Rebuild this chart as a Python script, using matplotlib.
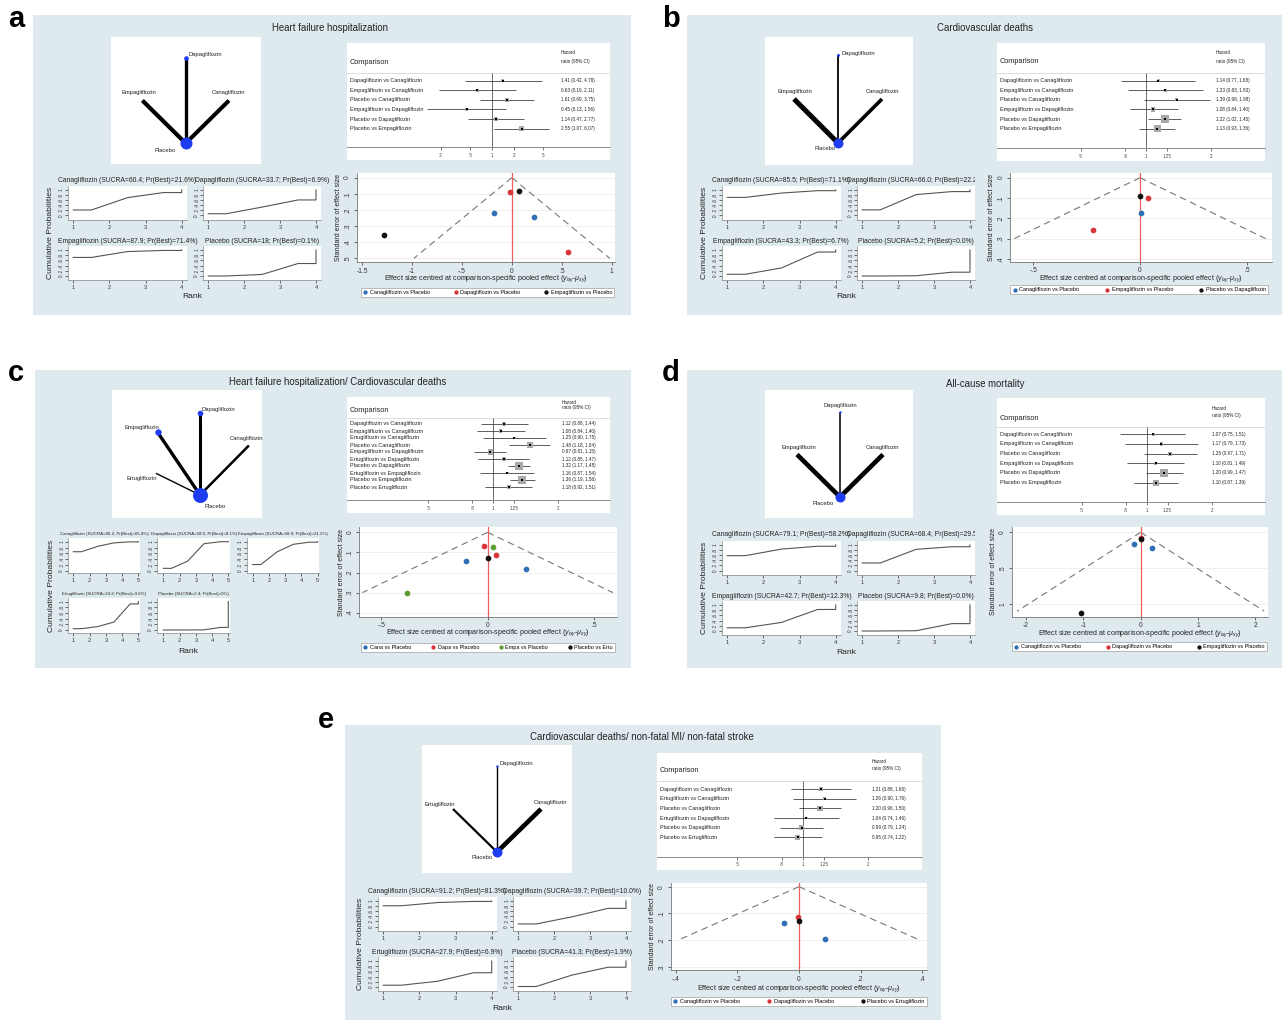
import numpy as np
import matplotlib
matplotlib.use("Agg")
import matplotlib.pyplot as plt
from matplotlib.patches import Rectangle
from matplotlib.transforms import Bbox, TransformedBbox, blended_transform_factory

W, H = 1283, 1022
plt.rcParams['font.family'] = ['Liberation Sans', 'DejaVu Sans']
plt.rcParams['mathtext.fontset'] = 'custom'
plt.rcParams['mathtext.rm'] = 'Liberation Sans'
plt.rcParams['mathtext.it'] = 'Liberation Sans:italic'
plt.rcParams['axes.linewidth'] = 0.6

BG = '#dfeaef'
BLUE, RED, GREEN, BLACK = '#2f6fb6', '#d9363c', '#5f9d2e', '#111111'
NODE = '#1e3cf0'
TXT = '#222222'

# ---------------- a: Heart failure hospitalization ----------------
a_title = "Heart failure hospitalization"
a_comparisons = ["Dapagliflozin vs Canagliflozin", "Empagliflozin vs Canagliflozin",
                 "Placebo vs Canagliflozin", "Empagliflozin vs Dapagliflozin",
                 "Placebo vs Dapagliflozin", "Placebo vs Empagliflozin"]
a_hr = [1.41, 0.63, 1.61, 0.45, 1.14, 2.55]
a_lo = [0.42, 0.19, 0.69, 0.13, 0.47, 1.07]
a_hi = [4.78, 2.11, 3.75, 1.56, 2.77, 6.07]
a_weight = [1.0, 1.0, 1.5, 1.0, 1.4, 1.6]
a_treatments = ["Canagliflozin", "Dapagliflozin", "Empagliflozin", "Placebo"]
a_sucra = ["60.4", "33.7", "87.9", "18"]
a_pbest = ["21.6", "6.9", "71.4", "0.1"]
a_cumprob = [[0.216, 0.70, 0.90, 1.0], [0.069, 0.33, 0.61, 1.0],
             [0.714, 0.94, 0.983, 1.0], [0.001, 0.06, 0.48, 1.0]]
a_funnel_groups = ["Canagliflozin vs Placebo", "Dapagliflozin vs Placebo", "Empagliflozin vs Placebo"]
a_funnel_effect = [[-0.18, 0.22], [-0.02, 0.565], [0.067, -1.28]]
a_funnel_se = [[0.221, 0.246], [0.087, 0.46], [0.081, 0.356]]
a_edges = [("Placebo", "Dapagliflozin"), ("Placebo", "Empagliflozin"), ("Placebo", "Canagliflozin")]

# ---------------- b: Cardiovascular deaths ----------------
b_title = "Cardiovascular deaths"
b_comparisons = a_comparisons
b_hr = [1.14, 1.23, 1.39, 1.08, 1.22, 1.13]
b_lo = [0.77, 0.83, 0.98, 0.84, 1.02, 0.93]
b_hi = [1.68, 1.83, 1.98, 1.40, 1.45, 1.36]
b_weight = [1.0, 1.0, 1.0, 1.5, 2.8, 2.5]
b_treatments = ["Canagliflozin", "Dapagliflozin", "Empagliflozin", "Placebo"]
b_sucra = ["85.5", "66.0", "43.3", "5.2"]
b_pbest = ["71.1", "22.2", "6.7", "0.0"]
b_cumprob = [[0.711, 0.88, 0.974, 1.0], [0.222, 0.82, 0.938, 1.0],
             [0.067, 0.31, 0.922, 1.0], [0.0, 0.01, 0.146, 1.0]]
b_funnel_groups = ["Canagliflozin vs Placebo", "Empagliflozin vs Placebo", "Placebo vs Dapagliflozin"]
b_funnel_effect = [[0.003], [0.036, -0.222], [0.0]]
b_funnel_se = [[0.175], [0.101, 0.258], [0.09]]
b_edges = a_edges

# ---------------- c: Heart failure hospitalization/ Cardiovascular deaths ----------------
c_title = "Heart failure hospitalization/ Cardiovascular deaths"
c_comparisons = ["Dapagliflozin vs Canagliflozin", "Empagliflozin vs Canagliflozin",
                 "Ertugliflozin vs Canagliflozin", "Placebo vs Canagliflozin",
                 "Empagliflozin vs Dapagliflozin", "Ertugliflozin vs Dapagliflozin",
                 "Placebo vs Dapagliflozin", "Ertugliflozin vs Empagliflozin",
                 "Placebo vs Empagliflozin", "Placebo vs Ertugliflozin"]
c_hr = [1.12, 1.08, 1.25, 1.48, 0.97, 1.12, 1.32, 1.16, 1.36, 1.18]
c_lo = [0.88, 0.84, 0.90, 1.18, 0.81, 0.85, 1.17, 0.87, 1.19, 0.92]
c_hi = [1.44, 1.40, 1.75, 1.84, 1.15, 1.47, 1.48, 1.54, 1.56, 1.51]
c_weight = [1.3, 1.3, 1.0, 2.0, 1.9, 1.3, 2.8, 1.0, 2.6, 1.3]
c_treatments = ["Canagliflozin", "Dapagliflozin", "Empagliflozin", "Ertugliflozin", "Placebo"]
c_sucra = ["86.2", "58.5", "68.9", "34.2", "2.4"]
c_pbest = ["65.4", "8.1", "21.2", "4.6", "0"]
c_cumprob = [[0.654, 0.84, 0.96, 0.994, 1.0], [0.081, 0.33, 0.93, 0.999, 1.0],
             [0.212, 0.65, 0.91, 0.984, 1.0], [0.046, 0.12, 0.28, 0.922, 1.0],
             [0.0, 0.0, 0.005, 0.091, 1.0]]
c_funnel_groups = ["Cana vs Placebo", "Dapa vs Placebo", "Empa vs Placebo", "Placebo vs Ertu"]
c_funnel_effect = [[-0.103, 0.178], [-0.016, 0.039], [0.023, -0.38], [0.0]]
c_funnel_se = [[0.141, 0.184], [0.067, 0.114], [0.072, 0.30], [0.128]]
c_edges = [("Placebo", "Dapagliflozin"), ("Placebo", "Empagliflozin"),
           ("Placebo", "Canagliflozin"), ("Placebo", "Ertugliflozin")]

# ---------------- d: All-cause mortality ----------------
d_title = "All-cause mortality"
d_comparisons = a_comparisons
d_hr = [1.07, 1.17, 1.28, 1.10, 1.20, 1.10]
d_lo = [0.75, 0.79, 0.97, 0.81, 0.99, 0.87]
d_hi = [1.51, 1.73, 1.71, 1.49, 1.47, 1.39]
d_weight = [1.0, 1.3, 1.3, 1.0, 2.5, 2.1]
d_treatments = ["Canagliflozin", "Dapagliflozin", "Empagliflozin", "Placebo"]
d_sucra = ["79.1", "68.4", "42.7", "9.8"]
d_pbest = ["58.2", "29.5", "12.3", "0.0"]
d_cumprob = [[0.582, 0.84, 0.951, 1.0], [0.295, 0.83, 0.932, 1.0],
             [0.123, 0.33, 0.828, 1.0], [0.0, 0.01, 0.284, 1.0]]
d_funnel_groups = ["Canagliflozin vs Placebo", "Dapagliflozin vs Placebo", "Empagliflozin vs Placebo"]
d_funnel_effect = [[-0.11, 0.19], [0.0], [0.0, -1.04]]
d_funnel_se = [[0.163, 0.214], [0.085], [0.095, 1.12]]
d_edges = a_edges

# ---------------- e: Cardiovascular deaths/ non-fatal MI/ non-fatal stroke ----------------
e_title = "Cardiovascular deaths/ non-fatal MI/ non-fatal stroke"
e_comparisons = ["Dapagliflozin vs Canagliflozin", "Ertugliflozin vs Canagliflozin",
                 "Placebo vs Canagliflozin", "Ertugliflozin vs Dapagliflozin",
                 "Placebo vs Dapagliflozin", "Placebo vs Ertugliflozin"]
e_hr = [1.21, 1.26, 1.20, 1.04, 0.99, 0.95]
e_lo = [0.88, 0.90, 0.96, 0.74, 0.79, 0.74]
e_hi = [1.66, 1.76, 1.50, 1.46, 1.24, 1.22]
e_weight = [1.2, 1.0, 1.8, 1.0, 1.8, 1.8]
e_treatments = ["Canagliflozin", "Dapagliflozin", "Ertugliflozin", "Placebo"]
e_sucra = ["91.2", "39.7", "27.9", "41.3"]
e_pbest = ["81.3", "10.0", "6.9", "1.9"]
e_cumprob = [[0.813, 0.94, 0.983, 1.0], [0.10, 0.38, 0.711, 1.0],
             [0.069, 0.22, 0.548, 1.0], [0.019, 0.46, 0.76, 1.0]]
e_funnel_groups = ["Canagliflozin vs Placebo", "Dapagliflozin vs Placebo", "Placebo vs Ertugliflozin"]
e_funnel_effect = [[-0.048, 0.084], [-0.002], [0.0]]
e_funnel_se = [[0.137, 0.197], [0.112], [0.127]]
e_edges = [("Placebo", "Dapagliflozin"), ("Placebo", "Ertugliflozin"), ("Placebo", "Canagliflozin")]

hr_ticks_wide = [0.2, 0.5, 1, 2, 5]
hr_ticklabels_wide = [".2", ".5", "1", "2", "5"]
hr_ticks = [0.5, 0.8, 1, 1.25, 2]
hr_ticklabels = [".5", ".8", "1", "1.25", "2"]

fig = plt.figure(figsize=(W / 100, H / 100), dpi=100)
fig.patch.set_facecolor('white')


def add_ax(x0, y0, x1, y1):
    return fig.add_axes([x0 / W, 1 - y1 / H, (x1 - x0) / W, (y1 - y0) / H])


def ftext(x, y, s, **kw):
    kw.setdefault('color', TXT)
    return fig.text(x / W, 1 - y / H, s, **kw)


def frect(x0, y0, x1, y1, color, z=-10, **kw):
    fig.patches.append(Rectangle((x0 / W, 1 - y1 / H), (x1 - x0) / W, (y1 - y0) / H,
                                 transform=fig.transFigure, facecolor=color, zorder=z, **kw))


def forest(box, one_px, px_per_ln, r0, dr, sep_px, head_px, hz_px, text_px,
           comps, hr, lo, hi, wt, ticks, ticklabels):
    x0, y0, x1, y1 = box
    frect(x0, y0, x1, y1 + 13, 'white', z=-5)
    ax = add_ax(x0, y0, x1, y1)
    ax.set_facecolor('white')
    ax.set_xscale('log')
    ax.set_xlim(np.exp((x0 - one_px) / px_per_ln), np.exp((x1 - one_px) / px_per_ln))
    ybot, ytop = (y1 - r0) / dr, (y0 - r0) / dr
    ax.set_ylim(ybot, ytop)
    rows = np.arange(len(comps))
    sep = (sep_px - r0) / dr
    ax.axhline(sep, color='#cfcfcf', lw=0.5)
    ax.vlines(1, sep, ybot, color='#555555', lw=0.6)
    ax.hlines(rows, lo, hi, color='#333333', lw=0.55, zorder=3)
    ax.scatter(hr, rows, marker='s', s=np.array(wt) ** 2 * 4.5, color='#a8a8a8', zorder=4, linewidths=0)
    ax.scatter(hr, rows, marker='s', s=3.2, color='black', zorder=5, linewidths=0)
    tr = blended_transform_factory(ax.transAxes, ax.transData)
    lx = 3 / (x1 - x0)
    tx = (text_px - x0) / (x1 - x0)
    for i, c in enumerate(comps):
        ax.text(lx, i, c, transform=tr, fontsize=4, va='center', ha='left', color=TXT)
        ax.text(tx, i, f"{hr[i]:.2f} ({lo[i]:.2f}, {hi[i]:.2f})", transform=tr,
                fontsize=3.3, va='center', ha='left', color=TXT)
    ax.text(lx, (head_px - r0) / dr, "Comparison", transform=tr, fontsize=5.3, va='center', color=TXT)
    ax.text(tx, (hz_px[0] - r0) / dr, "Hazard", transform=tr, fontsize=3.3, va='center', color=TXT)
    ax.text(tx, (hz_px[1] - r0) / dr, "ratio (95% CI)", transform=tr, fontsize=3.3, va='center', color=TXT)
    for s in ['top', 'right', 'left']:
        ax.spines[s].set_visible(False)
    ax.spines['bottom'].set_color('#777777')
    ax.set_xticks(ticks)
    ax.set_xticklabels(ticklabels)
    ax.minorticks_off()
    ax.set_yticks([])
    ax.tick_params(axis='x', labelsize=3.3, length=2.5, width=0.5, pad=1.5, colors='#444444')
    return ax


def funnel(box, xlim, ylim, xticks, xtl, yticks, ytl, semax, groups, effects, ses, colors,
           leg_box, xlabel_y):
    x0, y0, x1, y1 = box
    ax = add_ax(x0, y0, x1, y1)
    ax.set_facecolor('white')
    ax.set_xlim(*xlim)
    ax.set_ylim(ylim[1], ylim[0])
    ax.set_yticks(yticks)
    ax.set_yticklabels(ytl, rotation=90, va='center')
    ax.set_xticks(xticks)
    ax.set_xticklabels(xtl)
    ax.yaxis.grid(True, color='#ececec', lw=0.6)
    ax.set_axisbelow(True)
    se = np.array([0.0, semax])
    ax.plot(-1.96 * se, se, color='#777777', lw=0.8, ls=(0, (6, 4)), zorder=2)
    ax.plot(1.96 * se, se, color='#777777', lw=0.8, ls=(0, (6, 4)), zorder=2)
    ax.axvline(0, color='#e8615e', lw=0.9, zorder=2)
    handles = []
    for g, ex, sy, col in zip(groups, effects, ses, colors):
        handles.append(ax.scatter(ex, sy, s=17, color=col, zorder=4, linewidths=0, label=g))
    for s in ['top', 'right']:
        ax.spines[s].set_visible(False)
    for s in ['left', 'bottom']:
        ax.spines[s].set_color('#777777')
    ax.tick_params(labelsize=4.8, length=2.5, width=0.5, pad=1.5, colors='#333333')
    ax.set_ylabel("Standard error of effect size", fontsize=5.0, labelpad=1.5, color=TXT)
    ftext((x0 + x1) / 2, xlabel_y,
          r"Effect size centred at comparison-specific pooled effect ($y_{ixy}$-$\mu_{xy}$)",
          fontsize=5.1, ha='center', va='center')
    lx0, ly0, lx1, ly1 = leg_box
    leg = ax.legend(handles=handles, ncol=len(groups), loc='center',
                    bbox_to_anchor=(lx0 / W, 1 - ly1 / H, (lx1 - lx0) / W, (ly1 - ly0) / H),
                    bbox_transform=fig.transFigure, mode='expand', fontsize=4,
                    frameon=True, fancybox=False, edgecolor='#a0a0a0', framealpha=1,
                    handletextpad=0.3, borderaxespad=0, borderpad=0.35, columnspacing=1.0,
                    handlelength=1.0, markerscale=0.75)
    leg.get_frame().set_linewidth(0.5)
    return ax


def sucra(cols, rows, treat, sucra_v, pbest, cum, title_ys, title_size, clip_right=None):
    """cols: list of (x0, x1, px_rank1, px_rankN); rows: list of (y0, y1, px_p0, px_p1)."""
    ncol = len(cols)
    for k, name in enumerate(treat):
        cx0, cx1, p1, pn = cols[k % ncol]
        ry0, ry1, q0, q1 = rows[k // ncol]
        n = len(cum[k])
        ax = add_ax(cx0, ry0, cx1, ry1)
        ax.set_facecolor('white')
        spx = (pn - p1) / (n - 1)
        ax.set_xlim(1 - (p1 - cx0) / spx, n + (cx1 - pn) / spx)
        spy = (q0 - q1)
        ax.set_ylim(-(ry1 - q0) / spy, 1 + (q1 - ry0) / spy)
        c = cum[k]
        # cumulative ranking curve: flat start, mid-rank joints, vertical finish at last rank
        xs = [1] + [r + 0.5 for r in range(1, n)] + [n, n]
        ys = [c[0]] + [c[r] for r in range(0, n - 1)] + [c[n - 2], c[n - 1]]
        ax.plot(xs, ys, color='#555555', lw=0.8)
        ax.set_xticks(range(1, n + 1))
        ax.set_yticks([0, 0.2, 0.4, 0.6, 0.8, 1])
        ax.set_yticklabels(["0", ".2", ".4", ".6", ".8", "1"], rotation=90, va='center')
        for s in ['top', 'right']:
            ax.spines[s].set_visible(False)
        for s in ['left', 'bottom']:
            ax.spines[s].set_color('#888888')
            ax.spines[s].set_linewidth(0.5)
        ax.tick_params(axis='x', labelsize=4, length=2, width=0.5, pad=1.5, colors='#333333')
        ax.tick_params(axis='y', labelsize=3.4, length=2, width=0.5, pad=1, colors='#333333')
        t = ftext((cx0 + cx1) / 2, title_ys[k // ncol],
                  f"{name} (SUCRA={sucra_v[k]}; Pr(Best)={pbest[k]}%)",
                  fontsize=title_size, ha='center', va='center')
        if clip_right is not None:
            t.set_clip_box(TransformedBbox(Bbox.from_extents(0, 0, clip_right / W, 1), fig.transFigure))
            t.set_clip_on(True)


def network(box, pos, node_r, edges, edge_lw, labels):
    x0, y0, x1, y1 = box
    ax = add_ax(x0, y0, x1, y1)
    ax.set_facecolor('white')
    ax.set_xlim(x0, x1)
    ax.set_ylim(y1, y0)
    ax.axis('off')
    frect(x0, y0, x1, y1, 'white', z=-5)
    for (a, b), lw in zip(edges, edge_lw):
        ax.plot([pos[a][0], pos[b][0]], [pos[a][1], pos[b][1]], color='black', lw=lw,
                solid_capstyle='butt', zorder=2)
    for name, r in node_r.items():
        if r > 0:
            ax.scatter([pos[name][0]], [pos[name][1]], s=(2 * r * 0.72) ** 2, color=NODE,
                       zorder=3, linewidths=0)
    for name, (dx, dy, ha) in labels.items():
        ax.text(pos[name][0] + dx, pos[name][1] + dy, name, fontsize=4.2, ha=ha, va='center', color=TXT)


def ring(center, radius, angles):
    cx, cy = center
    rx, ry = radius
    return {k: (cx + rx * np.cos(np.radians(a)), cy - ry * np.sin(np.radians(a))) for k, a in angles.items()}


# ---------------- panel backgrounds, letters and titles ----------------
panels = {'a': (33, 15, 631, 315), 'b': (687, 15, 1282, 315), 'c': (35, 370, 631, 668),
          'd': (687, 370, 1282, 668), 'e': (345, 725, 941, 1020)}
for key, (x0, y0, x1, y1) in panels.items():
    frect(x0, y0, x1, y1, BG)
letters = {'a': (16, 19), 'b': (671, 19), 'c': (16, 373), 'd': (671, 373), 'e': (326, 720)}
for key, (x, y) in letters.items():
    ftext(x, y, key, fontsize=21, fontweight='bold', ha='center', va='center', color='black')

ftext(330, 28, a_title, fontsize=6.9, ha='center', va='center')
ftext(985, 28, b_title, fontsize=6.9, ha='center', va='center')
ftext(338, 382, c_title, fontsize=6.9, ha='center', va='center')
ftext(985, 384, d_title, fontsize=6.9, ha='center', va='center')
ftext(642, 737, e_title, fontsize=6.9, ha='center', va='center')

# ---------------- forest plots ----------------
forest((347, 42.7, 610, 147.3), 492, 31.7, 80.7, 9.6, 72.7, 62.3, (52.3, 62), 561,
       a_comparisons, a_hr, a_lo, a_hi, a_weight, hr_ticks_wide, hr_ticklabels_wide)
forest((997, 42.7, 1265, 148.3), 1146, 94, 80.7, 9.6, 73.3, 61.7, (52.3, 62), 1216,
       b_comparisons, b_hr, b_lo, b_hi, b_weight, hr_ticks, hr_ticklabels)
forest((347, 396.7, 610, 500), 493.3, 93.8, 424, 7.0, 417.7, 410, (402, 408), 561.7,
       c_comparisons, c_hr, c_lo, c_hi, c_weight, hr_ticks, hr_ticklabels)
forest((997, 398.3, 1265, 502.3), 1146.7, 94, 434.3, 9.67, 427.3, 418.3, (408.3, 415.7), 1211.7,
       d_comparisons, d_hr, d_lo, d_hi, d_weight, hr_ticks, hr_ticklabels)
forest((657, 752.7, 921.7, 856.7), 802.7, 94.6, 789, 9.67, 780.7, 770.7, (761.7, 768.3), 871.7,
       e_comparisons, e_hr, e_lo, e_hi, e_weight, hr_ticks, hr_ticklabels)

# ---------------- funnel plots ----------------
funnel((356.7, 173.3, 615, 262.3), (-1.553, 1.033), (-0.027, 0.525),
       [-1.5, -1, -0.5, 0, 0.5, 1], ["-1.5", "-1", "-.5", "0", ".5", "1"],
       [0, 0.1, 0.2, 0.3, 0.4, 0.5], ["0", ".1", ".2", ".3", ".4", ".5"], 0.5,
       a_funnel_groups, a_funnel_effect, a_funnel_se, [BLUE, RED, BLACK],
       (360.7, 286.7, 614, 297.7), 279)
funnel((1010, 173, 1271.7, 261.7), (-0.609, 0.617), (-0.023, 0.414),
       [-0.5, 0, 0.5], ["-.5", "0", ".5"],
       [0, 0.1, 0.2, 0.3, 0.4], ["0", ".1", ".2", ".3", ".4"], 0.3,
       b_funnel_groups, b_funnel_effect, b_funnel_se, [BLUE, RED, BLACK],
       (1010, 284, 1268, 295.7), 278.3)
funnel((359.3, 527.3, 616.7, 616.7), (-0.603, 0.606), (-0.025, 0.42),
       [-0.5, 0, 0.5], ["-.5", "0", ".5"],
       [0, 0.1, 0.2, 0.3, 0.4], ["0", ".1", ".2", ".3", ".4"], 0.3,
       c_funnel_groups, c_funnel_effect, c_funnel_se, [BLUE, RED, GREEN, BLACK],
       (360.7, 641.7, 615, 652.7), 632.7)
funnel((1011.7, 526.7, 1268.3, 616.7), (-2.25, 2.227), (-0.078, 1.177),
       [-2, -1, 0, 1, 2], ["-2", "-1", "0", "1", "2"],
       [0, 0.5, 1], ["0", ".5", "1"], 1.1,
       d_funnel_groups, d_funnel_effect, d_funnel_se, [BLUE, RED, BLACK],
       (1011.7, 641.7, 1266.7, 651.7), 633.3)
funnel((670.7, 882.7, 926.7, 970), (-0.4166, 0.4146), (-0.015, 0.312),
       [-0.4, -0.2, 0, 0.2, 0.4], ["-.4", "-.2", "0", ".2", ".4"],
       [0, 0.1, 0.2, 0.3], ["0", ".1", ".2", ".3"], 0.2,
       e_funnel_groups, e_funnel_effect, e_funnel_se, [BLUE, RED, BLACK],
       (670.7, 996.7, 926.7, 1006), 988.3)

# ---------------- rankograms ----------------
def four_grid(dx, dy):
    cols = [(68 + dx, 186.7 + dx, 73.3 + dx, 181.7 + dx), (203.3 + dx, 321 + dx, 208.3 + dx, 316 + dx)]
    rows = [(186 + dy, 220 + dy, 215.5 + dy, 190 + dy), (246 + dy, 280 + dy, 276 + dy, 250 + dy)]
    return cols, rows, [180 + dy, 241.5 + dy]


for (dx, dy), tr_, sv, pb, cp, clip in [((0, 0), a_treatments, a_sucra, a_pbest, a_cumprob, None),
                                        ((654, 0), b_treatments, b_sucra, b_pbest, b_cumprob, 975),
                                        ((654, 355), d_treatments, d_sucra, d_pbest, d_cumprob, 975),
                                        ((310, 711), e_treatments, e_sucra, e_pbest, e_cumprob, None)]:
    cols, rows, tys = four_grid(dx, dy)
    sucra(cols, rows, tr_, sv, pb, cp, tys, 4.85, clip_right=clip)
    ftext(50 + dx, 233 + dy, "Cumulative Probabilities", fontsize=6.1, rotation=90, ha='center', va='center')
    ftext(192 + dx, 297 + dy, "Rank", fontsize=6.1, ha='center', va='center')

c_cols = [(68.3, 140, 73.3, 138.3), (157.3, 230, 163.3, 228.3), (246.7, 319.3, 252.7, 317.7)]
c_rows = [(538, 573.3, 570.7, 541.7), (598, 632.7, 630, 601.7)]
sucra(c_cols, c_rows, c_treatments, c_sucra, c_pbest, c_cumprob, [534, 594], 3.2)
ftext(51.7, 586, "Cumulative Probabilities", fontsize=6.1, rotation=90, ha='center', va='center')
ftext(188, 651.7, "Rank", fontsize=6.1, ha='center', va='center')

# ---------------- network plots ----------------
four_angles = {"Dapagliflozin": 90, "Empagliflozin": 180, "Placebo": 270, "Canagliflozin": 0}
pos_a = ring((185.7, 100.5), (43.3, 42.8), four_angles)
network((111, 36.7, 261, 164.3), pos_a, {"Placebo": 6.0, "Dapagliflozin": 2.3},
        a_edges, [2.4, 3.0, 2.9],
        {"Dapagliflozin": (3.3, -3.4, 'left'), "Empagliflozin": (-4, -7.7, 'center'),
         "Canagliflozin": (-0.7, -7.7, 'center'), "Placebo": (-21, 7.7, 'center')})

pos_b = ring((838, 99), (44, 44), four_angles)
network((765, 37, 913, 165), pos_b, {"Placebo": 5, "Dapagliflozin": 1.5},
        b_edges, [1.3, 3.6, 2.6],
        {"Dapagliflozin": (3, -1, 'left'), "Empagliflozin": (1, -7, 'center'),
         "Canagliflozin": (0, -7, 'center'), "Placebo": (-13, 6, 'center')})

pos_d = ring((840, 454.5), (43, 42.5), four_angles)
network((765, 390, 913, 518), pos_d, {"Placebo": 5, "Dapagliflozin": 1.2},
        d_edges, [1.1, 3.3, 3.3],
        {"Dapagliflozin": (0, -7, 'center'), "Empagliflozin": (2, -7, 'center'),
         "Canagliflozin": (-1, -7, 'center'), "Placebo": (-17, 6, 'center')})

e_angles = {"Dapagliflozin": 90, "Ertugliflozin": 180, "Placebo": 270, "Canagliflozin": 0}
pos_e = ring((497, 809), (44, 43), e_angles)
network((422, 745, 572, 873), pos_e, {"Placebo": 5, "Dapagliflozin": 1.2},
        e_edges, [1.0, 1.6, 3.3],
        {"Dapagliflozin": (3, -3, 'left'), "Ertugliflozin": (-13, -5, 'center'),
         "Canagliflozin": (9, -7, 'center'), "Placebo": (-15, 5, 'center')})

c_angles = {"Dapagliflozin": 90, "Empagliflozin": 148, "Ertugliflozin": 208,
            "Placebo": 270, "Canagliflozin": 12}
pos_c = ring((200, 454), (50, 41), c_angles)
network((112, 390, 262, 518), pos_c,
        {"Placebo": 7.5, "Dapagliflozin": 2.8, "Empagliflozin": 3.2},
        c_edges, [2.2, 2.4, 1.8, 1.0],
        {"Dapagliflozin": (18, -4, 'center'), "Empagliflozin": (-16, -5, 'center'),
         "Canagliflozin": (-2, -7, 'center'), "Ertugliflozin": (-14, 5, 'center'),
         "Placebo": (15, 11, 'center')})

fig.savefig("out.png", dpi=100, facecolor='white')
